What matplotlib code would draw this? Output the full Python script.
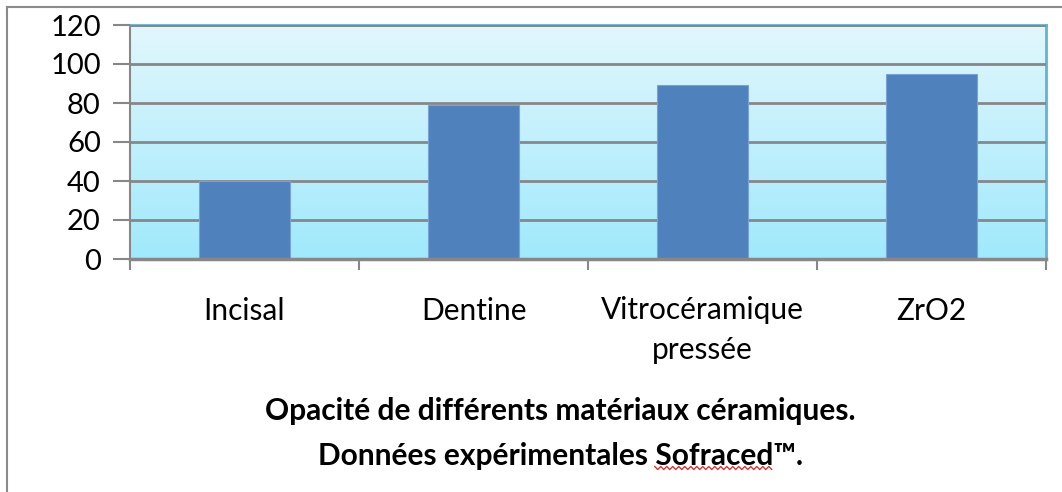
import numpy as np
import matplotlib.pyplot as plt
from matplotlib.lines import Line2D
from matplotlib.colors import LinearSegmentedColormap

# Opacité mesurée pour chaque matériau
categories = ["Incisal", "Dentine", "Vitrocéramique\npressée", "ZrO2"]
opacite = [40, 79, 89, 95]
y_ticks = [0, 20, 40, 60, 80, 100, 120]
titre_l1 = "Opacité de différents matériaux céramiques."
titre_l2 = "Données expérimentales Sofraced™."

plt.rcParams["font.family"] = ["Lato", "DejaVu Sans"]

W, H = 1062, 492
fig = plt.figure(figsize=(W / 100, H / 100), dpi=100)
ax = fig.add_axes([130 / W, 1 - 259 / H, 916 / W, 234 / H])

x = np.arange(len(categories))

# fond dégradé de la zone de tracé
grad = LinearSegmentedColormap.from_list("fond", ["#a0e9fc", "#e2f7fd"])
ax.imshow(np.linspace(0, 1, 256).reshape(-1, 1), cmap=grad, aspect="auto",
          origin="lower", extent=[-0.5, len(categories) - 0.5, 0, 120], zorder=0)

ax.bar(x, opacite, width=0.4, color="#4f81bd", edgecolor="#79a3d6",
       linewidth=0.8, zorder=3)

ax.set_xlim(-0.5, len(categories) - 0.5)
ax.set_ylim(0, 120)
ax.set_yticks(y_ticks)
ax.yaxis.grid(True, color="#878787", linewidth=2, zorder=2)
ax.set_axisbelow(False)

ax.set_xticks(x)
ax.set_xticklabels(categories, fontsize=21.5, linespacing=1.5)
ax.set_xticks(np.arange(len(categories) + 1) - 0.5, minor=True)
ax.tick_params(axis="x", which="major", length=0, pad=27)
ax.tick_params(axis="x", which="minor", length=8, width=1.5, color="#878787")
ax.tick_params(axis="y", length=12, width=1.5, color="#878787", labelsize=21, pad=9)

for side in ["left", "bottom"]:
    ax.spines[side].set_color("#878787")
ax.spines["left"].set_linewidth(1.5)
ax.spines["bottom"].set_linewidth(2.5)
ax.spines["bottom"].set_zorder(4)
for side in ["top", "right"]:
    ax.spines[side].set_color("#5fb6cd")
    ax.spines[side].set_linewidth(2)

# titre sur deux lignes
cx = 560
fig.text(cx / W, 1 - 411 / H, titre_l1, ha="center", va="center",
         fontsize=21.5, fontweight="bold")
t2 = fig.text(cx / W, 1 - 456 / H, titre_l2, ha="center", va="center",
              fontsize=21.5, fontweight="bold")

# soulignement ondulé sous "Sofraced"
fig.canvas.draw()
r = fig.canvas.get_renderer()
def largeur(s):
    t = fig.text(0, 0, s, fontsize=21.5, fontweight="bold")
    w = t.get_window_extent(r).width
    t.remove()
    return w
gauche = t2.get_window_extent(r).x0
fin = gauche + largeur("Données expérimentales Sofraced")
debut = fin - largeur("Sofraced")
zx = np.arange(debut, fin + 1, 3)
zy = 468 + np.where(np.arange(len(zx)) % 2 == 0, -1.5, 1.5)
fig.add_artist(Line2D(zx / W, 1 - zy / H, transform=fig.transFigure,
                      color="#e02020", linewidth=0.9))

# cadre du graphique
fig.add_artist(Line2D([7 / W, 7 / W], [0, 1 - 7 / H],
                      transform=fig.transFigure, color="#8a8a8a", linewidth=1.5))
fig.add_artist(Line2D([7 / W, 1], [1 - 7 / H, 1 - 7 / H],
                      transform=fig.transFigure, color="#8a8a8a", linewidth=1.5))

fig.savefig("out.png", dpi=100)
